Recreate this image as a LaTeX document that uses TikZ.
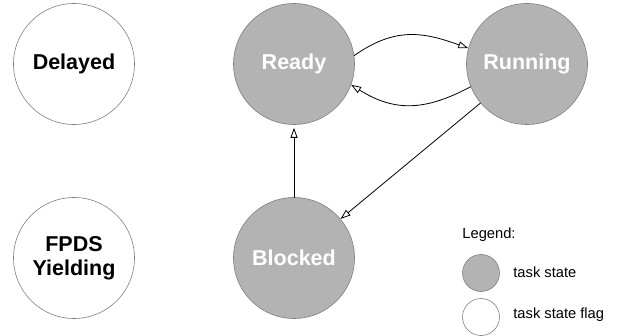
\documentclass[tikz,border=0pt]{standalone}
\usepackage{fontspec}
\setmainfont{Liberation Sans}
\usetikzlibrary{arrows.meta}

\definecolor{stategray}{RGB}{179,179,179}
\definecolor{rimgray}{RGB}{128,128,128}

\begin{document}
\begin{tikzpicture}[line width=0.8pt, line cap=round, line join=round, >={Triangle[open,length=10pt,width=7pt]}, x=1pt,y=-1pt,
  state/.style={circle, draw=rimgray, line width=0.6pt, fill=stategray, minimum size=121pt, inner sep=0pt,
    text=white, font=\bfseries\fontsize{21.5}{24}\selectfont},
  flag/.style={state, fill=white, text=black, align=center},
  legendtext/.style={anchor=west, inner sep=0pt, font=\fontsize{14.7}{17}\selectfont},
  legendmark/.style={circle, draw=rimgray, line width=0.6pt, minimum size=37pt, inner sep=0pt}]
  \useasboundingbox (0,0) rectangle (620,336);

  % states and flags
  \node[flag] (delayed) at (74,64) {Delayed};
  \node[flag] (yielding) at (74,258) {FPDS\\Yielding};
  \node[state] (ready) at (294,64) {Ready};
  \node[state] (running) at (527,64) {Running};
  \node[state] (blocked) at (294,258) {Blocked};

  % transitions
  \draw[->] (ready.8) to[out=35, in=160, looseness=1.1] (running.165);
  \draw[->] (running.202) to[out=208, in=-32, looseness=1.1] (ready.-20);
  \draw[->] (running.220) -- (blocked.40);
  \draw[->, shorten >=3pt] (blocked) -- (ready);

  % legend
  \node[legendtext] (legend) at (462,235) {Legend:};
  \node[legendmark, fill=stategray] (markstate) at (481,273) {};
  \node[legendmark, fill=white] (markflag) at (481,317) {};
  \node[legendtext] (txtstate) at (513,272) {task state};
  \node[legendtext] (txtflag) at (513,315) {task state flag};
\end{tikzpicture}
\end{document}
